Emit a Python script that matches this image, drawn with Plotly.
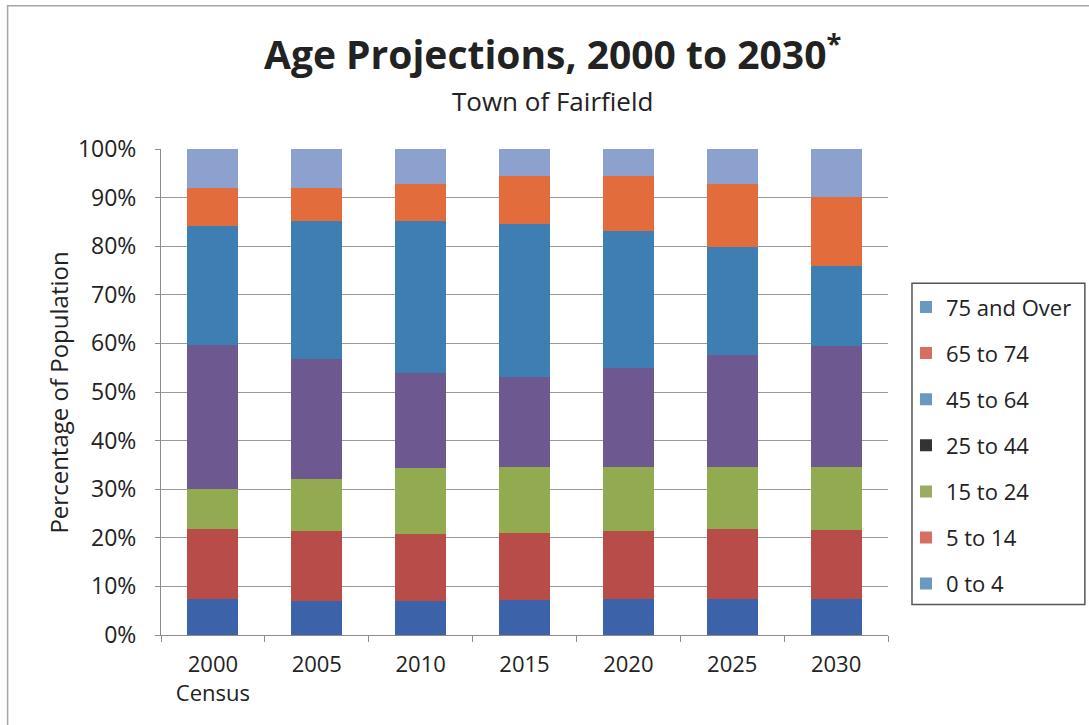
import plotly.graph_objects as go

# Projection years (x categories)
years = ["2000<br>Census", "2005", "2010", "2015", "2020", "2025", "2030"]

# Share of population (%) by age group, bottom to top of each stack
age_0_4 = [7.5, 6.9, 6.9, 7.2, 7.5, 7.5, 7.5]
age_5_14 = [14.3, 14.4, 13.8, 13.7, 14.0, 14.3, 14.1]
age_15_24 = [8.2, 10.9, 13.6, 13.7, 13.0, 12.7, 12.9]
age_25_44 = [29.6, 24.5, 19.7, 18.4, 20.5, 23.2, 25.0]
age_45_64 = [24.5, 28.4, 31.1, 31.6, 28.1, 22.1, 16.5]
age_65_74 = [7.9, 6.9, 7.8, 9.9, 11.4, 13.0, 14.2]
age_75_over = [8.0, 8.0, 7.1, 5.5, 5.5, 7.2, 9.8]

series_names = ["0 to 4", "5 to 14", "15 to 24", "25 to 44", "45 to 64", "65 to 74", "75 and Over"]
series_values = [age_0_4, age_5_14, age_15_24, age_25_44, age_45_64, age_65_74, age_75_over]
bar_colors = ["#3c62a9", "#b84c48", "#93ab50", "#6d5990", "#3f7eb2", "#e36c3c", "#8ca1cd"]
legend_colors = ["#6b98c1", "#d66e62", "#9bab62", "#333333", "#6b98c1", "#d66e62", "#6b98c1"]

FONT = "Open Sans"
TEXT = "#222222"

# plot-area geometry in pixels
W, H = 1089, 725
L, R, T, B = 160.5, 201, 148.5, 89.5
PW, PH = W - L - R, H - T - B


def px(x):
    return (x - L) / PW


def py(y):
    return (H - B - y) / PH


fig = go.Figure()

for name, vals, col in zip(series_names, series_values, bar_colors):
    fig.add_trace(go.Bar(
        x=years, y=vals, name=name, marker=dict(color=col, line=dict(width=0)),
        showlegend=False,
    ))

# legend entries (top to bottom: oldest group first) with their own swatch colours
for name, col in reversed(list(zip(series_names, legend_colors))):
    fig.add_trace(go.Bar(
        x=[years[0]], y=[None], name=name, marker=dict(color=col, line=dict(width=0)),
        showlegend=True, legendgroup="key " + name,
    ))

shapes = [
    # outer frame of the chart
    dict(type="rect", xref="paper", yref="paper",
         x0=px(7), x1=px(1100), y0=py(740), y1=py(5),
         line=dict(color="#a6a6a6", width=1.5), fillcolor="rgba(0,0,0,0)", layer="below"),
    # legend box
    dict(type="rect", xref="paper", yref="paper",
         x0=px(912), x1=px(1085), y0=py(605), y1=py(283),
         line=dict(color="#555555", width=1.5), fillcolor="rgba(0,0,0,0)"),
]

annotations = [
    dict(text="Age Projections, 2000 to 2030<sup>*</sup>", xref="paper", yref="paper",
         x=px(552), y=py(51), showarrow=False, xanchor="center", yanchor="middle",
         font=dict(family=FONT, size=39, color=TEXT, weight="bold")),
    dict(text="Town of Fairfield", xref="paper", yref="paper",
         x=px(552), y=py(100), showarrow=False, xanchor="center", yanchor="middle",
         font=dict(family=FONT, size=26, color=TEXT)),
    dict(text="Percentage of Population", xref="paper", yref="paper",
         x=px(58), y=py(393), showarrow=False, xanchor="center", yanchor="middle",
         textangle=-90, font=dict(family=FONT, size=24, color=TEXT)),
]

fig.update_layout(
    width=W, height=H,
    margin=dict(l=L, r=R, t=T, b=B, autoexpand=False),
    paper_bgcolor="white", plot_bgcolor="white",
    barmode="stack", bargap=0.51,
    font=dict(family=FONT, color=TEXT),
    shapes=shapes, annotations=annotations,
    legend=dict(
        x=px(906), y=py(286), xanchor="left", yanchor="top",
        traceorder="grouped", tracegroupgap=14.5,
        font=dict(family=FONT, size=22, color=TEXT),
        bgcolor="rgba(0,0,0,0)", borderwidth=0, itemwidth=30,
    ),
    xaxis=dict(
        showgrid=False, showline=True, linecolor="#8c8c8c", linewidth=1,
        ticks="outside", tickson="boundaries", ticklen=6, tickcolor="#8c8c8c",
        tickfont=dict(family=FONT, size=22, color=TEXT),
        ticklabelstandoff=10,
    ),
    yaxis=dict(
        range=[0, 100], tickmode="array", tickvals=list(range(0, 101, 10)),
        ticktext=[f"{v}%" for v in range(0, 101, 10)],
        showgrid=True, gridcolor="#9a9a9a", gridwidth=1,
        showline=True, linecolor="#8c8c8c", linewidth=1,
        ticks="outside", ticklen=5, tickcolor="#8c8c8c",
        tickfont=dict(family=FONT, size=23, color=TEXT),
        ticklabelstandoff=14, zeroline=False,
    ),
)

fig.write_html("out.html")
